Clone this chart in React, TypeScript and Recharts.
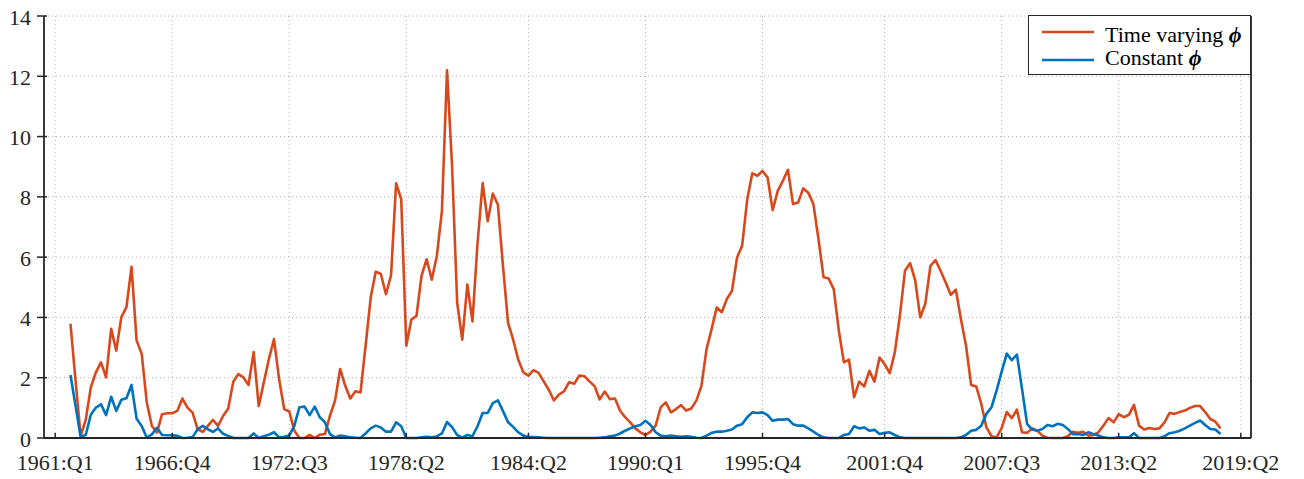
import React from 'react';
import { LineChart, Line, XAxis, YAxis, CartesianGrid } from 'recharts';

// first observation is 1961:Q4 (quarter index 3 counted from 1961:Q1)
const START_Q = 3;

const timeVarying = [
  3.79, 1.9, 0.07, 0.6, 1.68, 2.18, 2.51, 2.01, 3.62, 2.9,
  4.01, 4.34, 5.68, 3.23, 2.79, 1.18, 0.4, 0.18, 0.79, 0.82,
  0.82, 0.9, 1.31, 1.01, 0.84, 0.29, 0.2, 0.4, 0.6, 0.4,
  0.73, 0.98, 1.87, 2.12, 2.01, 1.76, 2.85, 1.06, 1.85, 2.62,
  3.28, 1.96, 0.96, 0.88, 0.24, 0, 0, 0.1, 0, 0.11,
  0.13, 0.74, 1.24, 2.29, 1.73, 1.31, 1.55, 1.51, 3.06, 4.66,
  5.52, 5.44, 4.77, 5.4, 8.45, 7.92, 3.06, 3.93, 4.05, 5.39,
  5.93, 5.25, 6.04, 7.53, 12.2, 9.0, 4.48, 3.26, 5.09, 3.87,
  6.47, 8.46, 7.19, 8.11, 7.74, 5.7, 3.82, 3.26, 2.6, 2.18,
  2.07, 2.25, 2.16, 1.88, 1.6, 1.25, 1.44, 1.55, 1.85, 1.8,
  2.07, 2.05, 1.88, 1.72, 1.28, 1.54, 1.29, 1.31, 0.91, 0.69,
  0.52, 0.32, 0.19, 0.1, 0.21, 0.41, 1.02, 1.18, 0.85, 0.96,
  1.09, 0.91, 0.98, 1.24, 1.73, 2.95, 3.61, 4.33, 4.17, 4.61,
  4.88, 5.99, 6.38, 7.92, 8.78, 8.7, 8.86, 8.64, 7.56, 8.2,
  8.53, 8.9, 7.76, 7.81, 8.28, 8.14, 7.76, 6.6, 5.33, 5.29,
  4.94, 3.56, 2.51, 2.6, 1.35, 1.87, 1.71, 2.23, 1.87, 2.67,
  2.45, 2.15, 2.84, 4.06, 5.55, 5.8, 5.24, 4.0, 4.46, 5.71,
  5.9, 5.55, 5.16, 4.75, 4.92, 3.94, 3.06, 1.76, 1.71, 1.13,
  0.35, 0.06, 0.02, 0.33, 0.86, 0.66, 0.94, 0.19, 0.17, 0.32,
  0.24, 0.08, 0.01, 0, 0, 0, 0.06, 0.21, 0.17, 0.21,
  0.08, 0.1, 0.19, 0.41, 0.66, 0.52, 0.79, 0.69, 0.77, 1.1,
  0.41, 0.28, 0.33, 0.3, 0.32, 0.52, 0.83, 0.8, 0.86, 0.91,
  1.0, 1.06, 1.06, 0.86, 0.63, 0.54, 0.32,
];

const constantPhi = [
  2.09, 1.07, 0.04, 0.1, 0.77, 1.01, 1.12, 0.76, 1.37, 0.9,
  1.27, 1.32, 1.76, 0.64, 0.4, 0.01, 0.12, 0.34, 0.1, 0.09,
  0.09, 0.07, 0, 0.01, 0.03, 0.29, 0.4, 0.29, 0.2, 0.32,
  0.14, 0.07, 0, 0, 0, 0, 0.15, 0, 0.06, 0.11,
  0.19, 0.02, 0.04, 0.08, 0.41, 1.02, 1.04, 0.76, 1.04, 0.69,
  0.52, 0.13, 0.02, 0.08, 0.06, 0.02, 0.01, 0, 0.15, 0.32,
  0.41, 0.35, 0.21, 0.21, 0.52, 0.39, 0, 0, 0, 0.02,
  0.04, 0.02, 0.05, 0.15, 0.53, 0.36, 0.1, 0.01, 0.1, 0.06,
  0.39, 0.83, 0.83, 1.16, 1.25, 0.89, 0.52, 0.37, 0.19, 0.08,
  0.03, 0.03, 0.02, 0.01, 0, 0, 0, 0, 0, 0,
  0, 0, 0, 0, 0.01, 0.02, 0.06, 0.08, 0.15, 0.24,
  0.32, 0.39, 0.43, 0.57, 0.43, 0.19, 0.08, 0.06, 0.08, 0.06,
  0.04, 0.06, 0.04, 0.01, 0, 0.08, 0.17, 0.21, 0.21, 0.24,
  0.28, 0.41, 0.46, 0.69, 0.85, 0.83, 0.85, 0.76, 0.57, 0.61,
  0.61, 0.63, 0.46, 0.41, 0.41, 0.32, 0.21, 0.1, 0.02, 0,
  0, 0, 0.1, 0.13, 0.39, 0.32, 0.35, 0.24, 0.27, 0.13,
  0.17, 0.19, 0.1, 0.02, 0, 0, 0, 0, 0, 0,
  0, 0, 0, 0, 0, 0.02, 0.1, 0.24, 0.27, 0.41,
  0.8, 1.02, 1.57, 2.2, 2.8, 2.58, 2.77, 1.63, 0.47, 0.28,
  0.24, 0.3, 0.43, 0.39, 0.47, 0.43, 0.3, 0.13, 0.13, 0.1,
  0.19, 0.13, 0.08, 0.02, 0, 0, 0.02, 0.02, 0.02, 0.16,
  0, 0, 0, 0, 0, 0.06, 0.16, 0.19, 0.24, 0.32,
  0.41, 0.5, 0.58, 0.43, 0.3, 0.28, 0.13,
];

const tickQuarters = [0, 23, 46, 69, 93, 116, 139, 163, 186, 209, 233];
const tickLabels = [
  '1961:Q1', '1966:Q4', '1972:Q3', '1978:Q2', '1984:Q2', '1990:Q1',
  '1995:Q4', '2001:Q4', '2007:Q3', '2013:Q2', '2019:Q2',
];
const yTicks = [0, 2, 4, 6, 8, 10, 12, 14];
const seriesNames = ['Time varying ', 'Constant '];

const data = timeVarying.map((v, i) => ({ q: START_Q + i, tv: v, c: constantPhi[i] }));

const RED = '#D9481C';
const BLUE = '#0072BD';
const AXIS = '#262626';
const FONT = '"Liberation Serif", "Times New Roman", serif';
const FS = 22;

const labelFor = (q: number) => {
  const i = tickQuarters.indexOf(q);
  return i >= 0 ? tickLabels[i] : '';
};

const BottomTick = (props: any) => {
  const { x, y, payload } = props;
  return (
    <g>
      <line x1={x} x2={x} y1={y} y2={y - 5} stroke={AXIS} strokeWidth={1.5} />
      <text x={x} y={y + 32} textAnchor="middle" fontFamily={FONT} fontSize={FS} fill={AXIS}>
        {labelFor(payload.value)}
      </text>
    </g>
  );
};

const TopTick = (props: any) => {
  const { x, y } = props;
  return <line x1={x} x2={x} y1={y} y2={y + 5} stroke={AXIS} strokeWidth={1.5} />;
};

const LeftTick = (props: any) => {
  const { x, y, payload } = props;
  return (
    <g>
      <line x1={x - 7} x2={x + 3} y1={y} y2={y} stroke={AXIS} strokeWidth={1.5} />
      <text x={x - 13} y={y + 8.5} textAnchor="end" fontFamily={FONT} fontSize={FS} fill={AXIS}>
        {payload.value}
      </text>
    </g>
  );
};

const RightTick = (props: any) => {
  const { x, y, payload } = props;
  return (
    <g>
      <line x1={x - 3} x2={x + 7} y1={y} y2={y} stroke={AXIS} strokeWidth={1.5} />
      <text x={x + 15} y={y + 8.5} textAnchor="start" fontFamily={FONT} fontSize={FS} fill={AXIS}>
        {payload.value}
      </text>
    </g>
  );
};

export default function App() {
  return (
    <div style={{ position: 'absolute', left: 0, top: 0, width: 1304, height: 479, background: '#fff' }}>
      <LineChart
        width={1304}
        height={479}
        data={data}
        margin={{ top: 16, right: 0, bottom: 0, left: 0 }}
      >
        <CartesianGrid stroke="#b0b0b0" strokeDasharray="1 3" strokeWidth={1} />
        <XAxis
          dataKey="q"
          type="number"
          domain={[-2.2, 235]}
          ticks={tickQuarters}
          allowDataOverflow
          height={41}
          tickSize={0}
          tickMargin={0}
          tickLine={false}
          axisLine={{ stroke: AXIS, strokeWidth: 1.8 }}
          tick={<BottomTick />}
          interval={0}
        />
        <XAxis
          xAxisId="top"
          orientation="top"
          dataKey="q"
          type="number"
          domain={[-2.2, 235]}
          ticks={tickQuarters}
          allowDataOverflow
          height={0}
          tickSize={0}
          tickMargin={0}
          tickLine={false}
          axisLine={{ stroke: AXIS, strokeWidth: 1.8 }}
          tick={<TopTick />}
          interval={0}
        />
        <YAxis
          type="number"
          domain={[0, 14]}
          ticks={yTicks}
          width={44}
          tickSize={0}
          tickMargin={0}
          tickLine={false}
          axisLine={{ stroke: AXIS, strokeWidth: 1.8 }}
          tick={<LeftTick />}
          interval={0}
        />
        <YAxis
          yAxisId="right"
          orientation="right"
          type="number"
          domain={[0, 14]}
          ticks={yTicks}
          width={53}
          tickSize={0}
          tickMargin={0}
          tickLine={false}
          axisLine={{ stroke: AXIS, strokeWidth: 1.8 }}
          tick={<RightTick />}
          interval={0}
        />
        <Line
          type="linear"
          dataKey="tv"
          stroke={RED}
          strokeWidth={2.6}
          dot={false}
          isAnimationActive={false}
          strokeLinejoin="round"
        />
        <Line
          type="linear"
          dataKey="c"
          stroke={BLUE}
          strokeWidth={2.6}
          dot={false}
          isAnimationActive={false}
          strokeLinejoin="round"
        />
      </LineChart>
      <div
        style={{
          position: 'absolute',
          left: 1028,
          top: 15,
          width: 223,
          height: 60,
          boxSizing: 'border-box',
          border: `1.5px solid ${AXIS}`,
          background: '#fff',
        }}
      >
        <svg width={223} height={60} style={{ position: 'absolute', left: -1.5, top: -1.5 }}>
          <line x1={14} x2={66} y1={17} y2={17} stroke={RED} strokeWidth={2.6} />
          <line x1={14} x2={66} y1={45} y2={45} stroke={BLUE} strokeWidth={2.6} />
          <text x={77} y={27} fontFamily={FONT} fontSize={FS} fill="#000">
            {seriesNames[0]}
            <tspan fontWeight="bold" fontStyle="italic">ϕ</tspan>
          </text>
          <text x={77} y={50} fontFamily={FONT} fontSize={FS} fill="#000">
            {seriesNames[1]}
            <tspan fontWeight="bold" fontStyle="italic">ϕ</tspan>
          </text>
        </svg>
      </div>
    </div>
  );
}
